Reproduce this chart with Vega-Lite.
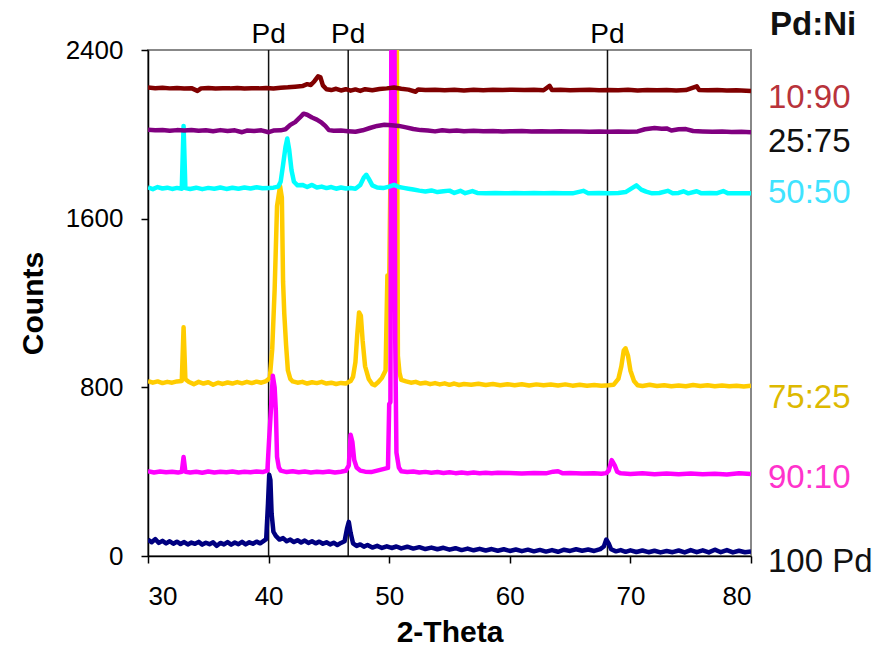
{
"$schema":"https://vega.github.io/schema/vega-lite/v6.json",
"width":603,"height":506,
"autosize":"none",
"padding":{"left":148,"top":50,"right":127,"bottom":92},
"background":"white",
"config":{"view":{"stroke":"#888888","strokeWidth":2},"font":"Liberation Sans"},
"datasets":{
"pd":[{"x":40.0},{"x":46.6},{"x":68.1}],
"lab":[{"t":"10:90","y":2125},{"t":"25:75","y":1916},{"t":"50:50","y":1674},{"t":"75:25","y":702},{"t":"90:10","y":323},{"t":"100 Pd","y":-76}],
"head":[{"t":"Pd:Ni","y":2471}],
"xrd":[
{"s":"100 Pd","x":30.0,"y":78},{"s":"100 Pd","x":30.3,"y":65},{"s":"100 Pd","x":30.6,"y":80},{"s":"100 Pd","x":30.9,"y":62},{"s":"100 Pd","x":31.2,"y":72},{"s":"100 Pd","x":31.5,"y":60},{"s":"100 Pd","x":31.8,"y":70},{"s":"100 Pd","x":32.1,"y":58},{"s":"100 Pd","x":32.4,"y":68},{"s":"100 Pd","x":32.7,"y":57},{"s":"100 Pd","x":33.0,"y":66},{"s":"100 Pd","x":33.3,"y":55},{"s":"100 Pd","x":33.6,"y":64},{"s":"100 Pd","x":33.9,"y":58},{"s":"100 Pd","x":34.2,"y":67},{"s":"100 Pd","x":34.5,"y":54},{"s":"100 Pd","x":34.8,"y":63},{"s":"100 Pd","x":35.1,"y":56},{"s":"100 Pd","x":35.4,"y":65},{"s":"100 Pd","x":35.7,"y":48},{"s":"100 Pd","x":36.0,"y":62},{"s":"100 Pd","x":36.3,"y":55},{"s":"100 Pd","x":36.6,"y":66},{"s":"100 Pd","x":36.9,"y":54},{"s":"100 Pd","x":37.2,"y":64},{"s":"100 Pd","x":37.5,"y":56},{"s":"100 Pd","x":37.8,"y":67},{"s":"100 Pd","x":38.1,"y":55},{"s":"100 Pd","x":38.4,"y":65},{"s":"100 Pd","x":38.7,"y":58},{"s":"100 Pd","x":39.0,"y":68},{"s":"100 Pd","x":39.3,"y":60},{"s":"100 Pd","x":39.6,"y":72},{"s":"100 Pd","x":39.8,"y":80},{"s":"100 Pd","x":39.95,"y":250},{"s":"100 Pd","x":40.05,"y":385},{"s":"100 Pd","x":40.15,"y":360},{"s":"100 Pd","x":40.25,"y":200},{"s":"100 Pd","x":40.4,"y":115},{"s":"100 Pd","x":40.6,"y":95},{"s":"100 Pd","x":40.9,"y":78},{"s":"100 Pd","x":41.2,"y":85},{"s":"100 Pd","x":41.5,"y":70},{"s":"100 Pd","x":41.8,"y":78},{"s":"100 Pd","x":42.1,"y":66},{"s":"100 Pd","x":42.4,"y":75},{"s":"100 Pd","x":42.7,"y":64},{"s":"100 Pd","x":43.0,"y":73},{"s":"100 Pd","x":43.3,"y":62},{"s":"100 Pd","x":43.6,"y":70},{"s":"100 Pd","x":43.9,"y":60},{"s":"100 Pd","x":44.2,"y":68},{"s":"100 Pd","x":44.5,"y":58},{"s":"100 Pd","x":44.8,"y":65},{"s":"100 Pd","x":45.1,"y":55},{"s":"100 Pd","x":45.4,"y":63},{"s":"100 Pd","x":45.7,"y":52},{"s":"100 Pd","x":46.0,"y":62},{"s":"100 Pd","x":46.3,"y":70},{"s":"100 Pd","x":46.5,"y":130},{"s":"100 Pd","x":46.65,"y":162},{"s":"100 Pd","x":46.8,"y":110},{"s":"100 Pd","x":47.0,"y":60},{"s":"100 Pd","x":47.3,"y":48},{"s":"100 Pd","x":47.6,"y":55},{"s":"100 Pd","x":47.9,"y":44},{"s":"100 Pd","x":48.2,"y":52},{"s":"100 Pd","x":48.6,"y":40},{"s":"100 Pd","x":49.0,"y":48},{"s":"100 Pd","x":49.4,"y":38},{"s":"100 Pd","x":49.8,"y":46},{"s":"100 Pd","x":50.2,"y":38},{"s":"100 Pd","x":50.6,"y":45},{"s":"100 Pd","x":51.0,"y":36},{"s":"100 Pd","x":51.5,"y":44},{"s":"100 Pd","x":52.0,"y":35},{"s":"100 Pd","x":52.5,"y":42},{"s":"100 Pd","x":53.0,"y":33},{"s":"100 Pd","x":53.5,"y":40},{"s":"100 Pd","x":54.0,"y":32},{"s":"100 Pd","x":54.5,"y":39},{"s":"100 Pd","x":55.0,"y":30},{"s":"100 Pd","x":55.5,"y":37},{"s":"100 Pd","x":56.0,"y":28},{"s":"100 Pd","x":56.5,"y":35},{"s":"100 Pd","x":57.0,"y":27},{"s":"100 Pd","x":57.5,"y":34},{"s":"100 Pd","x":58.0,"y":26},{"s":"100 Pd","x":58.5,"y":33},{"s":"100 Pd","x":59.0,"y":25},{"s":"100 Pd","x":59.5,"y":32},{"s":"100 Pd","x":60.0,"y":24},{"s":"100 Pd","x":60.5,"y":31},{"s":"100 Pd","x":61.0,"y":23},{"s":"100 Pd","x":61.5,"y":30},{"s":"100 Pd","x":62.0,"y":22},{"s":"100 Pd","x":62.5,"y":29},{"s":"100 Pd","x":63.0,"y":21},{"s":"100 Pd","x":63.5,"y":28},{"s":"100 Pd","x":64.0,"y":20},{"s":"100 Pd","x":64.5,"y":30},{"s":"100 Pd","x":65.0,"y":24},{"s":"100 Pd","x":65.5,"y":32},{"s":"100 Pd","x":66.0,"y":25},{"s":"100 Pd","x":66.5,"y":31},{"s":"100 Pd","x":67.0,"y":24},{"s":"100 Pd","x":67.5,"y":33},{"s":"100 Pd","x":67.8,"y":45},{"s":"100 Pd","x":68.0,"y":78},{"s":"100 Pd","x":68.2,"y":60},{"s":"100 Pd","x":68.4,"y":32},{"s":"100 Pd","x":68.8,"y":22},{"s":"100 Pd","x":69.2,"y":28},{"s":"100 Pd","x":69.6,"y":20},{"s":"100 Pd","x":70.0,"y":27},{"s":"100 Pd","x":70.5,"y":19},{"s":"100 Pd","x":71.0,"y":26},{"s":"100 Pd","x":71.5,"y":18},{"s":"100 Pd","x":72.0,"y":25},{"s":"100 Pd","x":72.5,"y":17},{"s":"100 Pd","x":73.0,"y":24},{"s":"100 Pd","x":73.5,"y":18},{"s":"100 Pd","x":74.0,"y":26},{"s":"100 Pd","x":74.5,"y":17},{"s":"100 Pd","x":75.0,"y":28},{"s":"100 Pd","x":75.5,"y":18},{"s":"100 Pd","x":76.0,"y":27},{"s":"100 Pd","x":76.5,"y":17},{"s":"100 Pd","x":77.0,"y":30},{"s":"100 Pd","x":77.5,"y":18},{"s":"100 Pd","x":78.0,"y":28},{"s":"100 Pd","x":78.5,"y":17},{"s":"100 Pd","x":79.0,"y":25},{"s":"100 Pd","x":79.5,"y":18},{"s":"100 Pd","x":80.0,"y":22},

{"s":"75:25","x":30.0,"y":830},{"s":"75:25","x":30.4,"y":822},{"s":"75:25","x":30.8,"y":828},{"s":"75:25","x":31.2,"y":820},{"s":"75:25","x":31.6,"y":826},{"s":"75:25","x":32.0,"y":822},{"s":"75:25","x":32.4,"y":828},{"s":"75:25","x":32.8,"y":830},{"s":"75:25","x":32.95,"y":1085},{"s":"75:25","x":33.1,"y":838},{"s":"75:25","x":33.4,"y":825},{"s":"75:25","x":33.8,"y":815},{"s":"75:25","x":34.2,"y":826},{"s":"75:25","x":34.6,"y":818},{"s":"75:25","x":35.0,"y":824},{"s":"75:25","x":35.4,"y":812},{"s":"75:25","x":35.8,"y":822},{"s":"75:25","x":36.2,"y":816},{"s":"75:25","x":36.6,"y":823},{"s":"75:25","x":37.0,"y":818},{"s":"75:25","x":37.4,"y":825},{"s":"75:25","x":37.8,"y":819},{"s":"75:25","x":38.2,"y":826},{"s":"75:25","x":38.6,"y":820},{"s":"75:25","x":39.0,"y":827},{"s":"75:25","x":39.4,"y":822},{"s":"75:25","x":39.8,"y":830},{"s":"75:25","x":40.1,"y":845},{"s":"75:25","x":40.3,"y":980},{"s":"75:25","x":40.5,"y":1262},{"s":"75:25","x":40.7,"y":1660},{"s":"75:25","x":40.95,"y":1755},{"s":"75:25","x":41.1,"y":1700},{"s":"75:25","x":41.2,"y":1300},{"s":"75:25","x":41.3,"y":1150},{"s":"75:25","x":41.45,"y":1000},{"s":"75:25","x":41.6,"y":880},{"s":"75:25","x":41.8,"y":840},{"s":"75:25","x":42.0,"y":828},{"s":"75:25","x":42.4,"y":822},{"s":"75:25","x":42.8,"y":826},{"s":"75:25","x":43.2,"y":818},{"s":"75:25","x":43.6,"y":824},{"s":"75:25","x":44.0,"y":820},{"s":"75:25","x":44.4,"y":826},{"s":"75:25","x":44.8,"y":818},{"s":"75:25","x":45.2,"y":822},{"s":"75:25","x":45.6,"y":816},{"s":"75:25","x":46.0,"y":821},{"s":"75:25","x":46.4,"y":818},{"s":"75:25","x":46.8,"y":830},{"s":"75:25","x":47.0,"y":850},{"s":"75:25","x":47.2,"y":920},{"s":"75:25","x":47.35,"y":1050},{"s":"75:25","x":47.5,"y":1155},{"s":"75:25","x":47.65,"y":1140},{"s":"75:25","x":47.8,"y":1020},{"s":"75:25","x":48.0,"y":900},{"s":"75:25","x":48.3,"y":840},{"s":"75:25","x":48.6,"y":815},{"s":"75:25","x":48.8,"y":810},{"s":"75:25","x":49.1,"y":825},{"s":"75:25","x":49.4,"y":845},{"s":"75:25","x":49.7,"y":880},{"s":"75:25","x":49.85,"y":1330},{"s":"75:25","x":50.0,"y":1300},{"s":"75:25","x":50.35,"y":3000},{"s":"75:25","x":50.6,"y":3000},{"s":"75:25","x":50.72,"y":950},{"s":"75:25","x":50.85,"y":870},{"s":"75:25","x":51.0,"y":835},{"s":"75:25","x":51.4,"y":828},{"s":"75:25","x":51.8,"y":822},{"s":"75:25","x":52.2,"y":826},{"s":"75:25","x":52.6,"y":818},{"s":"75:25","x":53.0,"y":822},{"s":"75:25","x":53.4,"y":815},{"s":"75:25","x":53.8,"y":820},{"s":"75:25","x":54.2,"y":814},{"s":"75:25","x":54.6,"y":819},{"s":"75:25","x":55.0,"y":812},{"s":"75:25","x":55.4,"y":818},{"s":"75:25","x":55.8,"y":811},{"s":"75:25","x":56.2,"y":816},{"s":"75:25","x":56.8,"y":812},{"s":"75:25","x":57.4,"y":817},{"s":"75:25","x":58.0,"y":811},{"s":"75:25","x":58.6,"y":816},{"s":"75:25","x":59.2,"y":810},{"s":"75:25","x":59.8,"y":815},{"s":"75:25","x":60.4,"y":810},{"s":"75:25","x":61.0,"y":815},{"s":"75:25","x":61.6,"y":809},{"s":"75:25","x":62.2,"y":814},{"s":"75:25","x":62.8,"y":810},{"s":"75:25","x":63.4,"y":813},{"s":"75:25","x":64.0,"y":809},{"s":"75:25","x":64.6,"y":814},{"s":"75:25","x":65.2,"y":808},{"s":"75:25","x":65.8,"y":812},{"s":"75:25","x":66.4,"y":808},{"s":"75:25","x":67.0,"y":811},{"s":"75:25","x":67.6,"y":808},{"s":"75:25","x":68.2,"y":810},{"s":"75:25","x":68.6,"y":812},{"s":"75:25","x":69.0,"y":840},{"s":"75:25","x":69.25,"y":900},{"s":"75:25","x":69.45,"y":975},{"s":"75:25","x":69.6,"y":985},{"s":"75:25","x":69.8,"y":950},{"s":"75:25","x":70.0,"y":880},{"s":"75:25","x":70.3,"y":830},{"s":"75:25","x":70.6,"y":810},{"s":"75:25","x":71.0,"y":806},{"s":"75:25","x":71.6,"y":812},{"s":"75:25","x":72.2,"y":806},{"s":"75:25","x":72.8,"y":810},{"s":"75:25","x":73.4,"y":805},{"s":"75:25","x":74.0,"y":809},{"s":"75:25","x":74.6,"y":805},{"s":"75:25","x":75.2,"y":811},{"s":"75:25","x":75.8,"y":806},{"s":"75:25","x":76.4,"y":810},{"s":"75:25","x":77.0,"y":805},{"s":"75:25","x":77.6,"y":809},{"s":"75:25","x":78.2,"y":805},{"s":"75:25","x":78.8,"y":808},{"s":"75:25","x":79.4,"y":804},{"s":"75:25","x":80.0,"y":808},

{"s":"90:10","x":30.0,"y":402},{"s":"90:10","x":30.5,"y":396},{"s":"90:10","x":31.0,"y":401},{"s":"90:10","x":31.5,"y":397},{"s":"90:10","x":32.0,"y":400},{"s":"90:10","x":32.5,"y":396},{"s":"90:10","x":32.8,"y":399},{"s":"90:10","x":32.95,"y":470},{"s":"90:10","x":33.1,"y":400},{"s":"90:10","x":33.5,"y":396},{"s":"90:10","x":34.0,"y":400},{"s":"90:10","x":34.5,"y":395},{"s":"90:10","x":35.0,"y":401},{"s":"90:10","x":35.5,"y":396},{"s":"90:10","x":36.0,"y":400},{"s":"90:10","x":36.5,"y":397},{"s":"90:10","x":37.0,"y":401},{"s":"90:10","x":37.5,"y":396},{"s":"90:10","x":38.0,"y":400},{"s":"90:10","x":38.5,"y":397},{"s":"90:10","x":39.0,"y":401},{"s":"90:10","x":39.5,"y":398},{"s":"90:10","x":39.9,"y":405},{"s":"90:10","x":40.05,"y":560},{"s":"90:10","x":40.2,"y":700},{"s":"90:10","x":40.35,"y":855},{"s":"90:10","x":40.5,"y":800},{"s":"90:10","x":40.6,"y":690},{"s":"90:10","x":40.7,"y":470},{"s":"90:10","x":40.85,"y":420},{"s":"90:10","x":41.0,"y":405},{"s":"90:10","x":41.5,"y":398},{"s":"90:10","x":42.0,"y":402},{"s":"90:10","x":42.5,"y":397},{"s":"90:10","x":43.0,"y":401},{"s":"90:10","x":43.5,"y":396},{"s":"90:10","x":44.0,"y":400},{"s":"90:10","x":44.5,"y":397},{"s":"90:10","x":45.0,"y":401},{"s":"90:10","x":45.5,"y":396},{"s":"90:10","x":46.0,"y":400},{"s":"90:10","x":46.4,"y":404},{"s":"90:10","x":46.65,"y":430},{"s":"90:10","x":46.8,"y":575},{"s":"90:10","x":46.95,"y":540},{"s":"90:10","x":47.1,"y":455},{"s":"90:10","x":47.3,"y":420},{"s":"90:10","x":47.6,"y":405},{"s":"90:10","x":48.0,"y":400},{"s":"90:10","x":48.5,"y":398},{"s":"90:10","x":49.0,"y":405},{"s":"90:10","x":49.5,"y":412},{"s":"90:10","x":49.9,"y":418},{"s":"90:10","x":50.0,"y":720},{"s":"90:10","x":50.1,"y":730},{"s":"90:10","x":50.2,"y":3000},{"s":"90:10","x":50.42,"y":3000},{"s":"90:10","x":50.5,"y":1025},{"s":"90:10","x":50.6,"y":490},{"s":"90:10","x":50.8,"y":420},{"s":"90:10","x":51.0,"y":402},{"s":"90:10","x":51.5,"y":398},{"s":"90:10","x":52.0,"y":401},{"s":"90:10","x":52.5,"y":396},{"s":"90:10","x":53.0,"y":399},{"s":"90:10","x":53.5,"y":395},{"s":"90:10","x":54.0,"y":398},{"s":"90:10","x":54.5,"y":394},{"s":"90:10","x":55.0,"y":397},{"s":"90:10","x":55.5,"y":393},{"s":"90:10","x":56.0,"y":396},{"s":"90:10","x":56.5,"y":392},{"s":"90:10","x":57.0,"y":396},{"s":"90:10","x":57.5,"y":393},{"s":"90:10","x":58.0,"y":395},{"s":"90:10","x":58.5,"y":392},{"s":"90:10","x":59.0,"y":395},{"s":"90:10","x":60.0,"y":394},{"s":"90:10","x":61.0,"y":391},{"s":"90:10","x":62.0,"y":394},{"s":"90:10","x":63.0,"y":392},{"s":"90:10","x":63.6,"y":400},{"s":"90:10","x":64.0,"y":402},{"s":"90:10","x":64.4,"y":392},{"s":"90:10","x":65.0,"y":394},{"s":"90:10","x":66.0,"y":391},{"s":"90:10","x":67.0,"y":393},{"s":"90:10","x":67.6,"y":390},{"s":"90:10","x":68.0,"y":393},{"s":"90:10","x":68.2,"y":405},{"s":"90:10","x":68.45,"y":455},{"s":"90:10","x":68.7,"y":430},{"s":"90:10","x":68.9,"y":400},{"s":"90:10","x":69.2,"y":392},{"s":"90:10","x":70.0,"y":389},{"s":"90:10","x":71.0,"y":392},{"s":"90:10","x":72.0,"y":388},{"s":"90:10","x":73.0,"y":391},{"s":"90:10","x":74.0,"y":388},{"s":"90:10","x":75.0,"y":391},{"s":"90:10","x":76.0,"y":388},{"s":"90:10","x":77.0,"y":390},{"s":"90:10","x":78.0,"y":387},{"s":"90:10","x":79.0,"y":393},{"s":"90:10","x":80.0,"y":389},

{"s":"50:50","x":30.0,"y":1748},{"s":"50:50","x":30.4,"y":1740},{"s":"50:50","x":30.8,"y":1750},{"s":"50:50","x":31.2,"y":1743},{"s":"50:50","x":31.6,"y":1747},{"s":"50:50","x":32.0,"y":1741},{"s":"50:50","x":32.4,"y":1746},{"s":"50:50","x":32.8,"y":1742},{"s":"50:50","x":32.95,"y":2040},{"s":"50:50","x":33.1,"y":1745},{"s":"50:50","x":33.5,"y":1741},{"s":"50:50","x":34.0,"y":1747},{"s":"50:50","x":34.5,"y":1740},{"s":"50:50","x":35.0,"y":1746},{"s":"50:50","x":35.5,"y":1742},{"s":"50:50","x":36.0,"y":1748},{"s":"50:50","x":36.5,"y":1741},{"s":"50:50","x":37.0,"y":1747},{"s":"50:50","x":37.5,"y":1742},{"s":"50:50","x":38.0,"y":1748},{"s":"50:50","x":38.5,"y":1743},{"s":"50:50","x":39.0,"y":1749},{"s":"50:50","x":39.5,"y":1744},{"s":"50:50","x":40.0,"y":1746},{"s":"50:50","x":40.4,"y":1747},{"s":"50:50","x":40.8,"y":1752},{"s":"50:50","x":41.0,"y":1775},{"s":"50:50","x":41.2,"y":1855},{"s":"50:50","x":41.4,"y":1940},{"s":"50:50","x":41.55,"y":1980},{"s":"50:50","x":41.7,"y":1930},{"s":"50:50","x":41.9,"y":1830},{"s":"50:50","x":42.1,"y":1775},{"s":"50:50","x":42.4,"y":1758},{"s":"50:50","x":42.8,"y":1760},{"s":"50:50","x":43.2,"y":1750},{"s":"50:50","x":43.6,"y":1760},{"s":"50:50","x":44.0,"y":1748},{"s":"50:50","x":44.4,"y":1752},{"s":"50:50","x":44.8,"y":1745},{"s":"50:50","x":45.2,"y":1750},{"s":"50:50","x":45.6,"y":1742},{"s":"50:50","x":46.0,"y":1748},{"s":"50:50","x":46.4,"y":1743},{"s":"50:50","x":46.8,"y":1745},{"s":"50:50","x":47.2,"y":1742},{"s":"50:50","x":47.6,"y":1760},{"s":"50:50","x":47.9,"y":1795},{"s":"50:50","x":48.1,"y":1808},{"s":"50:50","x":48.3,"y":1790},{"s":"50:50","x":48.6,"y":1758},{"s":"50:50","x":49.0,"y":1748},{"s":"50:50","x":49.5,"y":1745},{"s":"50:50","x":50.0,"y":1752},{"s":"50:50","x":50.4,"y":1760},{"s":"50:50","x":50.8,"y":1750},{"s":"50:50","x":51.2,"y":1746},{"s":"50:50","x":51.6,"y":1742},{"s":"50:50","x":52.0,"y":1738},{"s":"50:50","x":52.5,"y":1733},{"s":"50:50","x":53.0,"y":1729},{"s":"50:50","x":53.5,"y":1734},{"s":"50:50","x":54.0,"y":1726},{"s":"50:50","x":54.5,"y":1730},{"s":"50:50","x":55.0,"y":1733},{"s":"50:50","x":55.4,"y":1722},{"s":"50:50","x":55.9,"y":1732},{"s":"50:50","x":56.3,"y":1721},{"s":"50:50","x":56.9,"y":1731},{"s":"50:50","x":57.3,"y":1722},{"s":"50:50","x":58.0,"y":1721},{"s":"50:50","x":58.8,"y":1722},{"s":"50:50","x":59.6,"y":1720},{"s":"50:50","x":60.4,"y":1722},{"s":"50:50","x":61.2,"y":1721},{"s":"50:50","x":62.0,"y":1722},{"s":"50:50","x":62.8,"y":1720},{"s":"50:50","x":63.6,"y":1722},{"s":"50:50","x":64.4,"y":1721},{"s":"50:50","x":65.2,"y":1720},{"s":"50:50","x":66.1,"y":1732},{"s":"50:50","x":66.5,"y":1721},{"s":"50:50","x":67.4,"y":1722},{"s":"50:50","x":68.2,"y":1720},{"s":"50:50","x":69.0,"y":1722},{"s":"50:50","x":69.6,"y":1726},{"s":"50:50","x":70.0,"y":1740},{"s":"50:50","x":70.5,"y":1758},{"s":"50:50","x":70.9,"y":1738},{"s":"50:50","x":71.3,"y":1728},{"s":"50:50","x":71.8,"y":1720},{"s":"50:50","x":72.4,"y":1722},{"s":"50:50","x":73.1,"y":1732},{"s":"50:50","x":73.5,"y":1721},{"s":"50:50","x":74.0,"y":1722},{"s":"50:50","x":74.4,"y":1730},{"s":"50:50","x":74.8,"y":1720},{"s":"50:50","x":75.5,"y":1730},{"s":"50:50","x":75.9,"y":1720},{"s":"50:50","x":76.6,"y":1722},{"s":"50:50","x":77.2,"y":1721},{"s":"50:50","x":77.7,"y":1731},{"s":"50:50","x":78.1,"y":1720},{"s":"50:50","x":78.8,"y":1721},{"s":"50:50","x":79.4,"y":1720},{"s":"50:50","x":80.0,"y":1721},

{"s":"25:75","x":30.0,"y":2022},{"s":"25:75","x":30.6,"y":2019},{"s":"25:75","x":31.2,"y":2021},{"s":"25:75","x":31.8,"y":2017},{"s":"25:75","x":32.4,"y":2020},{"s":"25:75","x":33.0,"y":2018},{"s":"25:75","x":33.6,"y":2021},{"s":"25:75","x":34.2,"y":2017},{"s":"25:75","x":34.8,"y":2019},{"s":"25:75","x":35.4,"y":2015},{"s":"25:75","x":36.0,"y":2020},{"s":"25:75","x":36.6,"y":2016},{"s":"25:75","x":37.2,"y":2019},{"s":"25:75","x":37.8,"y":2010},{"s":"25:75","x":38.2,"y":2018},{"s":"25:75","x":38.8,"y":2016},{"s":"25:75","x":39.4,"y":2019},{"s":"25:75","x":40.0,"y":2010},{"s":"25:75","x":40.4,"y":2018},{"s":"25:75","x":41.0,"y":2019},{"s":"25:75","x":41.4,"y":2024},{"s":"25:75","x":41.8,"y":2045},{"s":"25:75","x":42.2,"y":2058},{"s":"25:75","x":42.6,"y":2080},{"s":"25:75","x":42.9,"y":2098},{"s":"25:75","x":43.2,"y":2093},{"s":"25:75","x":43.6,"y":2080},{"s":"25:75","x":44.0,"y":2070},{"s":"25:75","x":44.4,"y":2055},{"s":"25:75","x":44.7,"y":2040},{"s":"25:75","x":45.0,"y":2020},{"s":"25:75","x":45.4,"y":2017},{"s":"25:75","x":46.0,"y":2018},{"s":"25:75","x":46.6,"y":2015},{"s":"25:75","x":47.2,"y":2012},{"s":"25:75","x":47.8,"y":2019},{"s":"25:75","x":48.4,"y":2030},{"s":"25:75","x":49.0,"y":2040},{"s":"25:75","x":49.6,"y":2045},{"s":"25:75","x":50.2,"y":2043},{"s":"25:75","x":50.8,"y":2040},{"s":"25:75","x":51.4,"y":2033},{"s":"25:75","x":52.0,"y":2025},{"s":"25:75","x":52.6,"y":2020},{"s":"25:75","x":53.2,"y":2018},{"s":"25:75","x":53.8,"y":2014},{"s":"25:75","x":54.4,"y":2019},{"s":"25:75","x":55.0,"y":2016},{"s":"25:75","x":55.6,"y":2018},{"s":"25:75","x":56.2,"y":2015},{"s":"25:75","x":57.0,"y":2017},{"s":"25:75","x":57.8,"y":2015},{"s":"25:75","x":58.6,"y":2016},{"s":"25:75","x":59.4,"y":2014},{"s":"25:75","x":60.2,"y":2015},{"s":"25:75","x":61.0,"y":2016},{"s":"25:75","x":61.8,"y":2014},{"s":"25:75","x":62.6,"y":2015},{"s":"25:75","x":63.4,"y":2013},{"s":"25:75","x":64.2,"y":2015},{"s":"25:75","x":65.0,"y":2013},{"s":"25:75","x":65.8,"y":2014},{"s":"25:75","x":66.6,"y":2012},{"s":"25:75","x":67.4,"y":2013},{"s":"25:75","x":68.2,"y":2012},{"s":"25:75","x":69.0,"y":2013},{"s":"25:75","x":69.8,"y":2012},{"s":"25:75","x":70.6,"y":2014},{"s":"25:75","x":71.2,"y":2024},{"s":"25:75","x":72.0,"y":2030},{"s":"25:75","x":72.6,"y":2027},{"s":"25:75","x":73.0,"y":2028},{"s":"25:75","x":73.4,"y":2018},{"s":"25:75","x":74.0,"y":2024},{"s":"25:75","x":74.6,"y":2025},{"s":"25:75","x":75.2,"y":2016},{"s":"25:75","x":76.0,"y":2014},{"s":"25:75","x":76.8,"y":2012},{"s":"25:75","x":77.6,"y":2013},{"s":"25:75","x":78.4,"y":2011},{"s":"25:75","x":79.2,"y":2012},{"s":"25:75","x":80.0,"y":2010},

{"s":"10:90","x":30.0,"y":2222},{"s":"10:90","x":30.6,"y":2219},{"s":"10:90","x":31.2,"y":2221},{"s":"10:90","x":31.8,"y":2218},{"s":"10:90","x":32.4,"y":2220},{"s":"10:90","x":33.0,"y":2217},{"s":"10:90","x":33.6,"y":2219},{"s":"10:90","x":34.1,"y":2206},{"s":"10:90","x":34.4,"y":2218},{"s":"10:90","x":35.0,"y":2220},{"s":"10:90","x":35.6,"y":2217},{"s":"10:90","x":36.2,"y":2219},{"s":"10:90","x":36.8,"y":2218},{"s":"10:90","x":37.4,"y":2220},{"s":"10:90","x":38.0,"y":2217},{"s":"10:90","x":38.6,"y":2219},{"s":"10:90","x":39.2,"y":2218},{"s":"10:90","x":39.8,"y":2220},{"s":"10:90","x":40.4,"y":2217},{"s":"10:90","x":41.0,"y":2221},{"s":"10:90","x":41.6,"y":2223},{"s":"10:90","x":42.2,"y":2226},{"s":"10:90","x":42.8,"y":2229},{"s":"10:90","x":43.2,"y":2238},{"s":"10:90","x":43.5,"y":2234},{"s":"10:90","x":43.8,"y":2252},{"s":"10:90","x":44.1,"y":2275},{"s":"10:90","x":44.3,"y":2270},{"s":"10:90","x":44.5,"y":2232},{"s":"10:90","x":44.8,"y":2214},{"s":"10:90","x":45.2,"y":2210},{"s":"10:90","x":45.6,"y":2216},{"s":"10:90","x":46.0,"y":2208},{"s":"10:90","x":46.4,"y":2214},{"s":"10:90","x":46.8,"y":2207},{"s":"10:90","x":47.2,"y":2213},{"s":"10:90","x":47.6,"y":2206},{"s":"10:90","x":48.0,"y":2214},{"s":"10:90","x":48.6,"y":2209},{"s":"10:90","x":49.2,"y":2215},{"s":"10:90","x":49.8,"y":2218},{"s":"10:90","x":50.4,"y":2222},{"s":"10:90","x":51.0,"y":2216},{"s":"10:90","x":51.6,"y":2212},{"s":"10:90","x":52.2,"y":2202},{"s":"10:90","x":52.4,"y":2213},{"s":"10:90","x":53.0,"y":2210},{"s":"10:90","x":53.8,"y":2212},{"s":"10:90","x":54.6,"y":2209},{"s":"10:90","x":55.4,"y":2211},{"s":"10:90","x":56.2,"y":2208},{"s":"10:90","x":57.0,"y":2212},{"s":"10:90","x":57.8,"y":2209},{"s":"10:90","x":58.6,"y":2211},{"s":"10:90","x":59.4,"y":2210},{"s":"10:90","x":60.2,"y":2212},{"s":"10:90","x":61.2,"y":2210},{"s":"10:90","x":62.0,"y":2211},{"s":"10:90","x":62.8,"y":2209},{"s":"10:90","x":63.3,"y":2230},{"s":"10:90","x":63.5,"y":2210},{"s":"10:90","x":64.2,"y":2211},{"s":"10:90","x":65.0,"y":2209},{"s":"10:90","x":65.8,"y":2210},{"s":"10:90","x":66.6,"y":2211},{"s":"10:90","x":67.4,"y":2209},{"s":"10:90","x":68.2,"y":2210},{"s":"10:90","x":69.0,"y":2209},{"s":"10:90","x":69.8,"y":2211},{"s":"10:90","x":70.6,"y":2208},{"s":"10:90","x":71.4,"y":2210},{"s":"10:90","x":72.2,"y":2209},{"s":"10:90","x":73.0,"y":2210},{"s":"10:90","x":73.8,"y":2208},{"s":"10:90","x":74.6,"y":2210},{"s":"10:90","x":75.5,"y":2228},{"s":"10:90","x":75.7,"y":2210},{"s":"10:90","x":76.4,"y":2209},{"s":"10:90","x":77.2,"y":2210},{"s":"10:90","x":78.0,"y":2208},{"s":"10:90","x":78.8,"y":2209},{"s":"10:90","x":79.6,"y":2207},{"s":"10:90","x":80.0,"y":2206}
]},
"layer":[
{"data":{"name":"pd"},"mark":{"type":"rule","color":"#111111","strokeWidth":1.5},
 "encoding":{"x":{"field":"x","type":"quantitative","scale":{"domain":[30,80],"nice":false,"zero":false},
   "axis":{"values":[30,40,50,60,70,80],"title":"2-Theta","grid":false,"labelFontSize":26,"labelColor":"#000","labelFont":"Liberation Sans","labelPadding":20,"tickSize":7,"tickColor":"#000","tickWidth":1.5,"domainColor":"#000","domainWidth":1.5,"titleFontSize":30,"titleFont":"Liberation Sans","titleFontWeight":"bold","titleColor":"#000","titleBaseline":"alphabetic","titleY":85}}}},
{"data":{"name":"xrd"},"mark":{"type":"line","strokeWidth":4.5,"clip":true,"strokeJoin":"round"},
 "encoding":{"x":{"field":"x","type":"quantitative"},
   "y":{"field":"y","type":"quantitative","scale":{"domain":[0,2400],"nice":false},
     "axis":{"values":[0,800,1600,2400],"format":"d","title":"Counts","grid":false,"labelFontSize":26,"labelColor":"#000","labelFont":"Liberation Sans","labelPadding":18,"tickSize":7,"tickColor":"#000","tickWidth":1.5,"domainColor":"#000","domainWidth":1.5,"titleFontSize":30,"titleFont":"Liberation Sans","titleFontWeight":"bold","titleColor":"#000","titleBaseline":"alphabetic","titleAngle":270,"titleX":-106,"titleY":253,"titleAlign":"center"}},
   "color":{"field":"s","type":"nominal","legend":null,
     "scale":{"domain":["10:90","25:75","50:50","75:25","90:10","100 Pd"],"range":["#800000","#800080","#00FFFF","#FFCC00","#FF00FF","#000080"]}}}},
{"data":{"name":"pd"},"mark":{"type":"text","text":"Pd","fontSize":28,"font":"Liberation Sans","baseline":"alphabetic","align":"center","color":"#000"},
 "encoding":{"x":{"field":"x","type":"quantitative"},"y":{"datum":2433}}},
{"data":{"name":"lab"},"mark":{"type":"text","fontSize":33,"font":"Liberation Sans","baseline":"alphabetic","align":"left","dx":17},
 "encoding":{"x":{"datum":80},"y":{"field":"y","type":"quantitative"},"text":{"field":"t"},
   "color":{"field":"t","type":"nominal","legend":null,
     "scale":{"domain":["10:90","25:75","50:50","75:25","90:10","100 Pd"],"range":["#B8333B","#111111","#3FE3FF","#DDB900","#FF33CC","#111111"]}}}},
{"data":{"name":"head"},"mark":{"type":"text","fontSize":33,"font":"Liberation Sans","fontWeight":"bold","baseline":"alphabetic","align":"left","dx":19,"color":"#111111"},
 "encoding":{"x":{"datum":80},"y":{"field":"y","type":"quantitative"},"text":{"field":"t"}}}
],
"resolve":{"scale":{"color":"independent"}}
}
